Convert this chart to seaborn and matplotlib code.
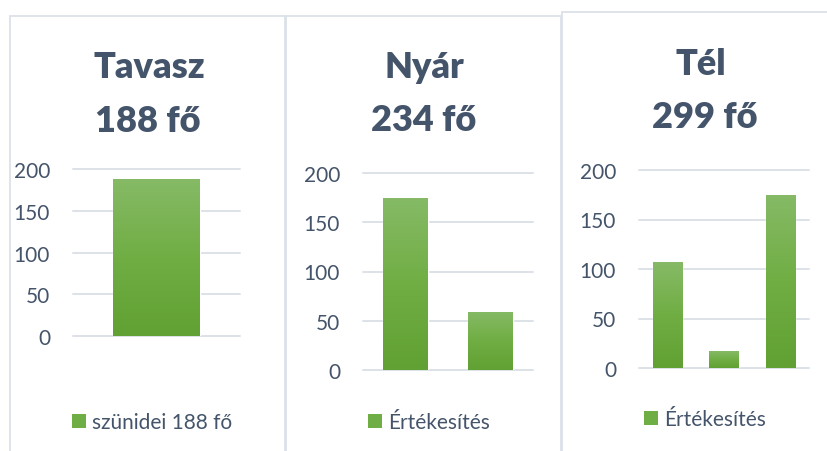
import matplotlib
matplotlib.use("Agg")
import matplotlib.pyplot as plt
import seaborn as sns
import numpy as np
import pandas as pd
from matplotlib.colors import LinearSegmentedColormap
from matplotlib.patches import Rectangle, Patch

# ---------------- data ----------------
panel_titles = ["Tavasz\n188 fő", "Nyár\n234 fő", "Tél\n299 fő"]
legend_labels = ["szünidei 188 fő", "Értékesítés", "Értékesítés"]
tavasz_cats = ["szünidei"]
tavasz_vals = [188]
nyar_cats = ["1", "2"]
nyar_vals = [175, 59]
tel_cats = ["1", "2", "3"]
tel_vals = [107, 17, 175]
y_ticks = [0, 50, 100, 150, 200]

# ---------------- style ----------------
sns.set_theme(style="white")
plt.rcParams["font.family"] = ["Lato", "DejaVu Sans"]

W, H = 827, 452
DPI = 100
fig = plt.figure(figsize=(W / DPI, H / DPI), dpi=DPI)
fig.patch.set_facecolor("white")

TEXT = "#44546A"
GRID = "#DDE1E8"
BORDER = "#DCE1E8"
BAR_MID = "#6FAD45"
cmap = LinearSegmentedColormap.from_list(
    "g", ["#61A032", "#70AE44", "#86BA66"])


def px_rect(x0, y0, x1, y1):
    """pixel coords (top-left origin) -> figure fraction rect"""
    return [x0 / W, 1 - y1 / H, (x1 - x0) / W, (y1 - y0) / H]


# panel borders
for (x0, y0, x1, y1) in [(10, 17, 285, 470), (286, 17, 561, 470), (562, 13, 840, 470)]:
    fig.patches.append(Rectangle((x0 / W, 1 - y1 / H), (x1 - x0) / W, (y1 - y0) / H,
                                 transform=fig.transFigure, fill=False,
                                 edgecolor=BORDER, linewidth=1.3, zorder=0))

panels = [
    dict(cats=tavasz_cats, vals=tavasz_vals, rect=(73, 170, 240, 337),
         t1=(149, 78), t2=(148, 132), leg=(152, 423)),
    dict(cats=nyar_cats, vals=nyar_vals, rect=(363, 174, 533, 371),
         t1=(424, 78), t2=(424, 131), leg=(429, 423)),
    dict(cats=tel_cats, vals=tel_vals, rect=(639, 171, 809, 369),
         t1=(701, 75), t2=(705, 128), leg=(705, 420)),
]

for i, p in enumerate(panels):
    ax = fig.add_axes(px_rect(*p["rect"]))
    df = pd.DataFrame({"cat": p["cats"], "val": p["vals"]})
    sns.barplot(data=df, x="cat", y="val", ax=ax, color=BAR_MID,
                width=0.52, saturation=1, zorder=2)
    n = len(p["cats"])
    # gradient fill for bars
    grad = np.linspace(0, 1, 256).reshape(-1, 1)
    for patch in list(ax.patches):
        bb = patch.get_bbox()
        im = ax.imshow(grad, cmap=cmap, origin="lower", aspect="auto",
                       extent=[bb.x0, bb.x1, bb.y0, bb.y1], zorder=3)
        im.set_clip_path(patch)
    ax.set_xlim(-0.5, n - 0.5)
    ax.set_ylim(0, 200)
    ax.set_yticks(y_ticks)
    ax.set_xticks([])
    ax.set_xlabel("")
    ax.set_ylabel("")
    for s in ax.spines.values():
        s.set_visible(False)
    for yv in y_ticks:
        ax.axhline(yv, color=GRID, linewidth=1.4, zorder=1, clip_on=False)
    ax.tick_params(axis="y", length=0, pad=16.5, labelsize=15, labelcolor=TEXT)
    ax.set_facecolor("none")

    # titles
    l1, l2 = panel_titles[i].split("\n")
    fig.text(p["t1"][0] / W, 1 - p["t1"][1] / H, l1, ha="center", va="baseline",
             fontsize=26, fontweight="heavy", color=TEXT)
    fig.text(p["t2"][0] / W, 1 - p["t2"][1] / H, l2, ha="center", va="baseline",
             fontsize=26, fontweight="heavy", color=TEXT)

    # legend
    handle = Patch(facecolor=BAR_MID, edgecolor="none")
    fig.legend([handle], [legend_labels[i]], loc="center",
               bbox_to_anchor=(p["leg"][0] / W, 1 - p["leg"][1] / H),
               frameon=False, fontsize=15, labelcolor=TEXT,
               handlelength=0.67, handleheight=0.67, handletextpad=0.3,
               borderpad=0, borderaxespad=0)

fig.savefig("out.png", dpi=DPI, facecolor="white")
